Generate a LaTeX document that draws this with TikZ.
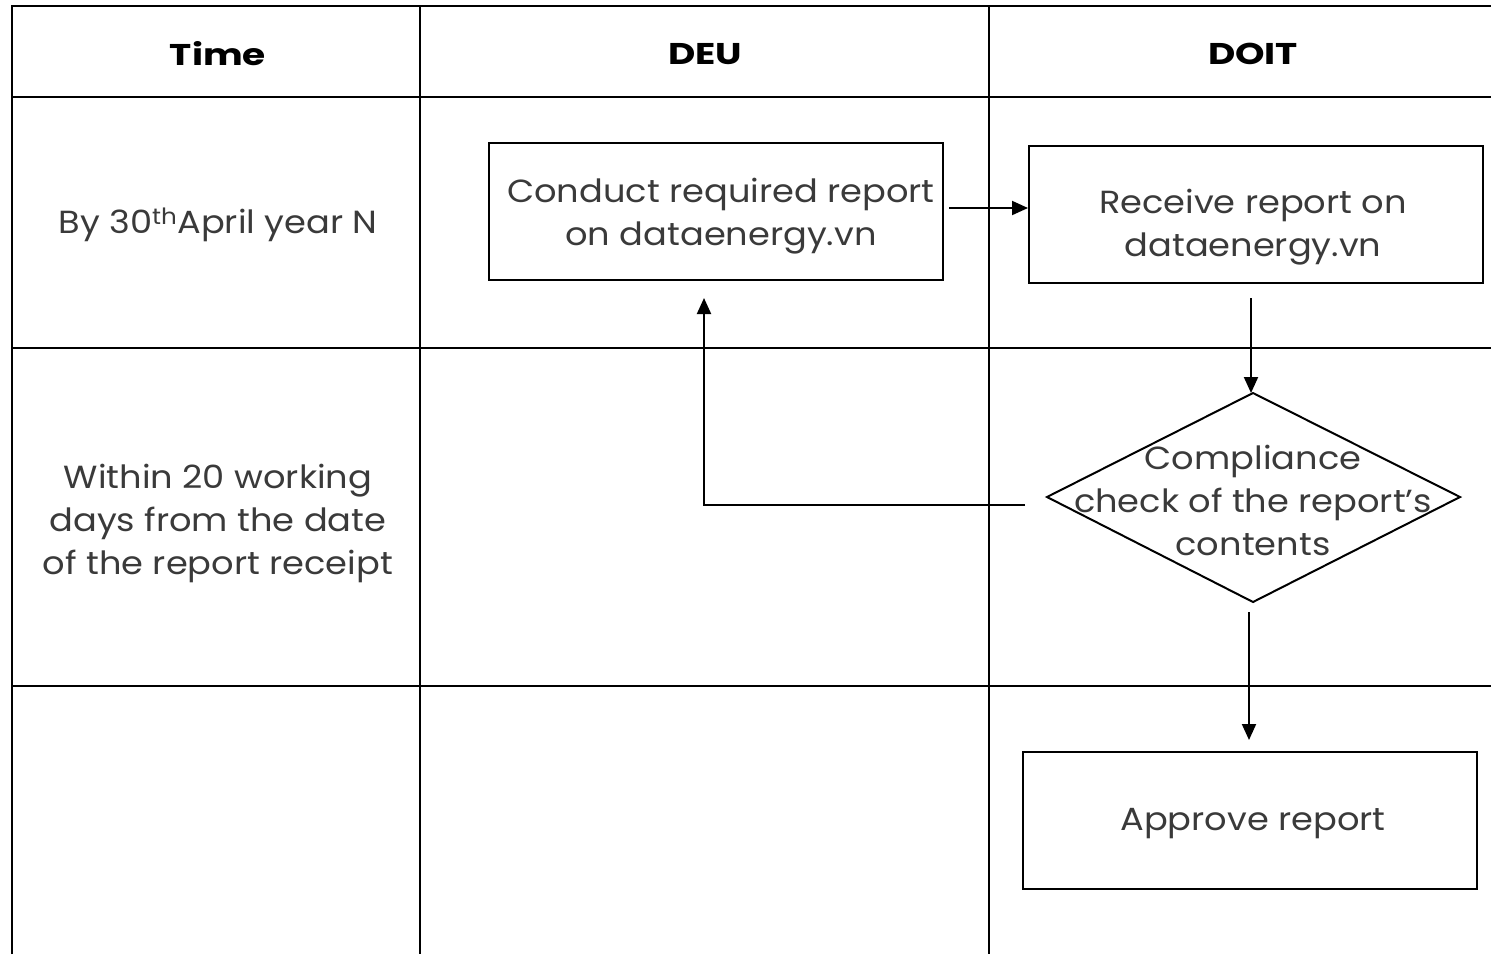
\documentclass[tikz,border=0pt]{standalone}
\usepackage{fontspec}
\setmainfont[FakeStretch=1.1]{Poppins}
\newfontfamily\headfont[FakeStretch=1.25]{Poppins}
\usetikzlibrary{arrows.meta}
\definecolor{txt}{HTML}{3A3A3A}
\begin{document}
\begin{tikzpicture}[x=1pt,y=-1pt,
  grid/.style={line width=2pt,black},
  box/.style={draw,line width=2pt,minimum width=454pt,minimum height=137pt,inner sep=0pt},
  lbl/.style={text=txt,font=\fontsize{32}{43}\selectfont,align=center,inner sep=0pt},
  head/.style={text=black,font=\headfont\fontsize{30}{34}\selectfont\bfseries},
  conn/.style={line width=2pt,-{Triangle[length=16pt,width=14pt]}}]
\useasboundingbox (0,0) rectangle (1491,954);
% table
\draw[grid] (12,954) -- (12,6) -- (1491,6);
\draw[grid] (420,6) -- (420,954);
\draw[grid] (989,6) -- (989,954);
\draw[grid] (12,97) -- (1491,97);
\draw[grid] (12,348) -- (1491,348);
\draw[grid] (12,686) -- (1491,686);
% headers
\node[head] (hTime) at (218,54) {Time};
\node[head] (hDEU) at (705,54) {DEU};
\node[head] (hDOIT) at (1253,54) {DOIT};
% time labels
\node[lbl] (t1) at (218,225) {By 30\textsuperscript{th}April year N};
\node[lbl] (t2) at (218,523) {Within 20 working\\days from the date\\of the report receipt};
% process nodes
\node[box] (conduct) at (716,211) {};
\node[lbl] (conductT) at (721,216) {Conduct required report\\on dataenergy.vn};
\node[box] (receive) at (1256,214) {};
\node[lbl] (receiveT) at (1253,227) {Receive report on\\dataenergy.vn};
\coordinate (dN) at (1253,393);
\coordinate (dS) at (1253,602);
\coordinate (dW) at (1047,497);
\coordinate (dE) at (1460,497);
\draw[line width=2pt,line join=miter] (dN) -- (dE) -- (dS) -- (dW) -- cycle;
\node[lbl] (check) at (1253,500) {Compliance\\check of the report's\\contents};
\node[box] (approve) at (1250,820) {};
\node[lbl] (approveT) at (1253,824) {Approve report};
% connectors
\coordinate (r1) at (1251,298);
\draw[conn,shorten <=5pt] (conduct.east |- 0,208) -- (receive.west |- 0,208);
\draw[conn] (r1) -- (dN -| r1);
\coordinate (c1) at (1249,612);
\coordinate (a1) at (1249,740);
\draw[conn] (c1) -- (a1);
\coordinate (fb) at (1025,505);
\coordinate (fbTip) at (704,298);
\draw[conn] (fb) -| (fbTip);
\end{tikzpicture}
\end{document}
